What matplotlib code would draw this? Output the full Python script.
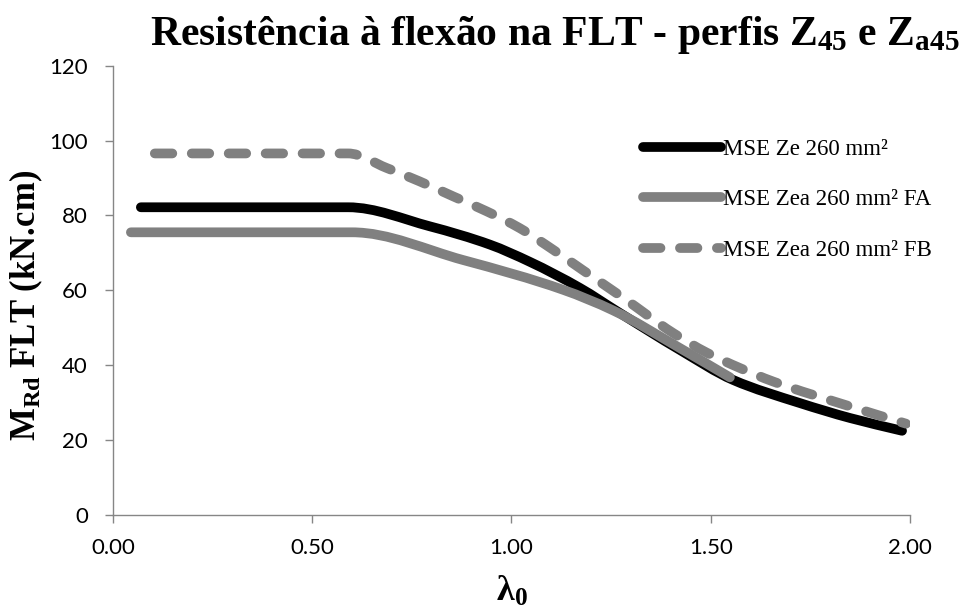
import numpy as np
import matplotlib
matplotlib.use("Agg")
import matplotlib.pyplot as plt
from matplotlib.path import Path
from matplotlib.patches import PathPatch

plt.rcParams['mathtext.fontset'] = 'custom'
plt.rcParams['mathtext.rm'] = 'Liberation Serif'
plt.rcParams['mathtext.bf'] = 'Liberation Serif:bold'
plt.rcParams['mathtext.it'] = 'Liberation Serif:italic'

# lambda_0 x MRd (kN.cm)
lam_ze = [0.07, 0.59, 0.795, 0.946, 1.046, 1.172, 1.272, 1.423, 1.556, 1.724, 1.85, 1.98]
mrd_ze = [82.2, 82.2, 77.1, 72.2, 67.6, 60.6, 53.9, 44.0, 36.0, 29.8, 25.8, 22.4]

lam_fa = [0.045, 0.60, 0.878, 1.13, 1.255, 1.423, 1.548]
mrd_fa = [75.5, 75.5, 68.1, 60.1, 54.6, 44.5, 36.7]

lam_fb = [0.105, 0.59, 0.687, 0.77, 0.854, 0.938, 1.021, 1.105, 1.18, 1.28, 1.405,
          1.49, 1.573, 1.656, 1.85, 1.99]
mrd_fb = [96.6, 96.6, 92.7, 89.1, 85.1, 81.1, 76.6, 70.8, 65.3, 58.0, 48.6,
          43.3, 39.2, 35.6, 28.9, 24.3]

labels = ['MSE Ze 260 mm²', 'MSE Zea 260 mm² FA', 'MSE Zea 260 mm² FB']


def smooth_path(x, y):
    # curva suavizada passando pelos pontos (hermite monotona -> bezier)
    x = np.asarray(x, float)
    y = np.asarray(y, float)
    h = np.diff(x)
    d = np.diff(y) / h
    m = np.zeros_like(y)
    m[0], m[-1] = d[0], d[-1]
    for k in range(1, len(x) - 1):
        if d[k - 1] * d[k] > 0:
            w1 = 2 * h[k] + h[k - 1]
            w2 = h[k] + 2 * h[k - 1]
            m[k] = (w1 + w2) / (w1 / d[k - 1] + w2 / d[k])
    verts = [(x[0], y[0])]
    codes = [Path.MOVETO]
    for k in range(len(x) - 1):
        verts += [(x[k] + h[k] / 3, y[k] + m[k] * h[k] / 3),
                  (x[k + 1] - h[k] / 3, y[k + 1] - m[k + 1] * h[k] / 3),
                  (x[k + 1], y[k + 1])]
        codes += [Path.CURVE4] * 3
    return Path(verts, codes)


fig = plt.figure(figsize=(9.68, 6.12), dpi=100)
ax = fig.add_axes([0.1167, 0.1593, 0.8234, 0.7329])

lw = 7
styles = [dict(color='black', ls='-'),
          dict(color='#808080', ls='-'),
          dict(color='#808080', ls=(0, (1.8, 2.0)))]
series = [(lam_ze, mrd_ze), (lam_fa, mrd_fa), (lam_fb, mrd_fb)]

for (x, y), st, lab in zip(series, styles, labels):
    patch = PathPatch(smooth_path(x, y), fill=False, edgecolor=st['color'],
                      lw=lw, linestyle=st['ls'], capstyle='round', joinstyle='round')
    ax.add_patch(patch)
    ax.plot([], [], color=st['color'], lw=lw, linestyle=st['ls'],
            solid_capstyle='round', dash_capstyle='round', label=lab)

ax.set_xlim(0, 2)
ax.set_ylim(0, 120)
ax.set_xticks([0, 0.5, 1.0, 1.5, 2.0])
ax.set_xticklabels(['0.00', '0.50', '1.00', '1.50', '2.00'])
ax.set_yticks(range(0, 121, 20))

for s in ['top', 'right']:
    ax.spines[s].set_visible(False)
for s in ['left', 'bottom']:
    ax.spines[s].set_color('#868686')
    ax.spines[s].set_linewidth(1.0)
ax.tick_params(direction='out', length=6, width=1.0, color='#868686', labelsize=16)
ax.tick_params(axis='x', pad=11)
ax.tick_params(axis='y', pad=12)
for t in ax.get_xticklabels() + ax.get_yticklabels():
    t.set_family('Lato')

ax.set_ylabel('M$_{\\mathbf{Rd}}$ FLT (kN.cm)', fontsize=25, fontweight='bold',
              family='Liberation Serif')
ax.yaxis.set_label_coords(-0.085, 0.467)
ax.set_xlabel('λ$_{\\mathbf{0}}$', fontsize=26, fontweight='bold',
              family='Liberation Serif')
ax.xaxis.set_label_coords(0.5, -0.135)

fig.text(0.5735, 0.977, 'Resistência à flexão na FLT - perfis Z$_{\\mathbf{45}}$ e Z$_{\\mathbf{a45}}$',
         ha='center', va='top', fontsize=30, fontweight='bold', family='Liberation Serif')

leg = ax.legend(loc='upper left', bbox_to_anchor=(643 / 968, 1 - 139 / 612),
                bbox_transform=fig.transFigure, frameon=False, borderpad=0,
                borderaxespad=0, handlelength=3.4, handletextpad=0.1,
                labelspacing=1.28, prop={'family': 'Liberation Serif', 'size': 16.5})

fig.savefig('out.png', dpi=100)
